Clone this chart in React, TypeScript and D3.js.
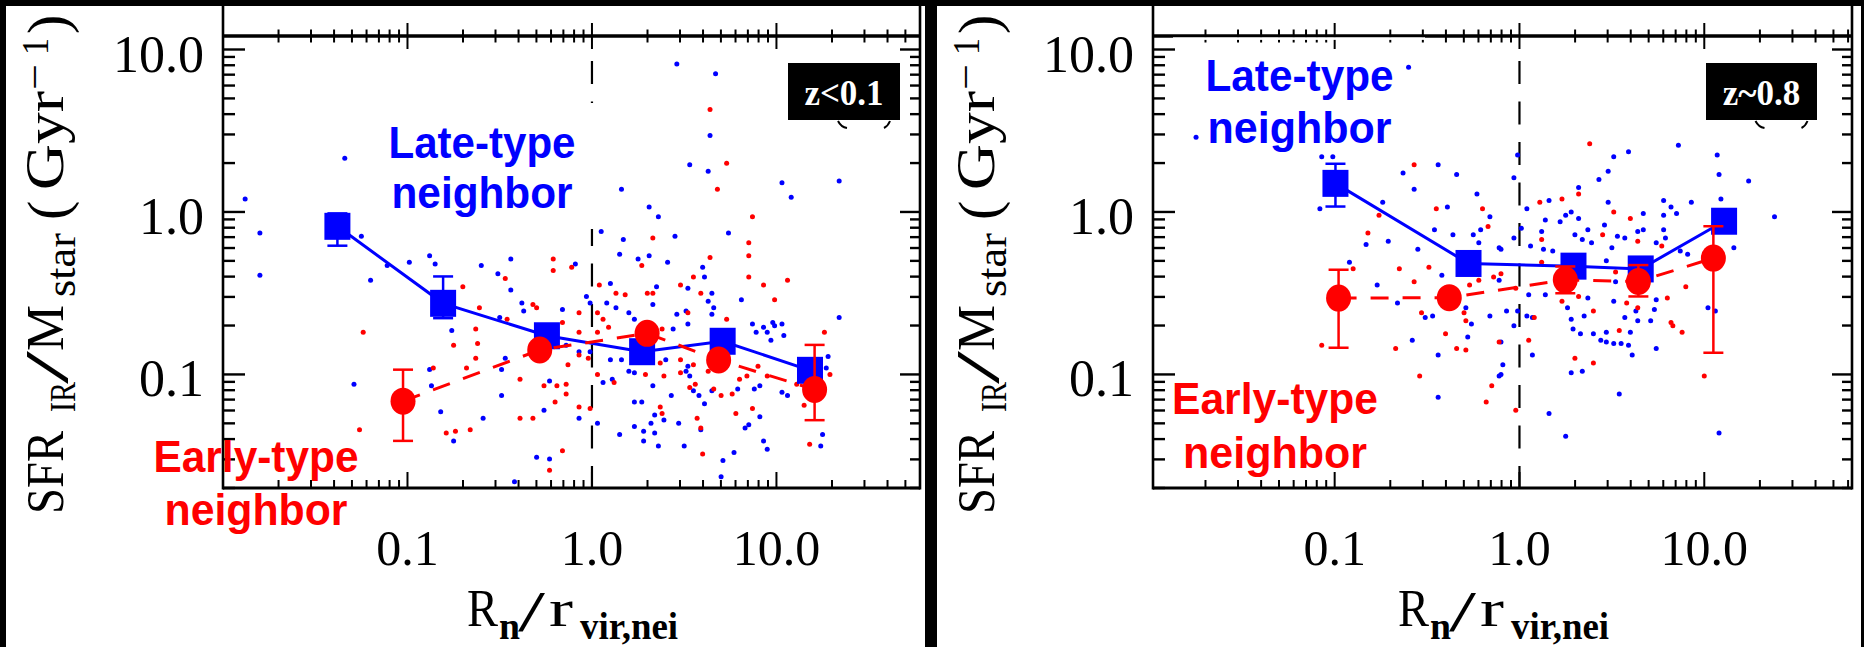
import React from 'react';
import * as d3 from 'd3';

// ---------------- data ----------------
const panelTags = ['z<0.1', 'z~0.8'];
const xTickValues = [0.1, 1, 10];
const xTickLabels = ['0.1', '1.0', '10.0'];
const yTickValues = [0.1, 1, 10];
const yTickLabels = ['0.1', '1.0', '10.0'];
const lateLabel = ['Late-type', 'neighbor'];
const earlyLabel = ['Early-type', 'neighbor'];

// binned means, z<0.1 (late-type neighbour: squares)
const lowzLateR = [0.0417, 0.156, 0.57, 1.87, 5.11, 15.2];
const lowzLateS = [0.816, 0.274, 0.173, 0.138, 0.16, 0.106];
const lowzLateLo = [0.62, 0.222, 0.158, 0.126, 0.146, 0.097];
const lowzLateHi = [0.98, 0.401, 0.19, 0.151, 0.175, 0.116];
// binned means, z<0.1 (early-type neighbour: circles)
const lowzEarlyR = [0.0946, 0.521, 1.99, 4.86, 16.1];
const lowzEarlyS = [0.0685, 0.1415, 0.179, 0.1227, 0.0808];
const lowzEarlyLo = [0.039, 0.13, 0.165, 0.112, 0.0523];
const lowzEarlyHi = [0.107, 0.154, 0.195, 0.134, 0.152];

// binned means, z~0.8
const highzLateR = [0.101, 0.53, 1.96, 4.53, 12.8];
const highzLateS = [1.5, 0.482, 0.464, 0.446, 0.877];
const highzLateLo = [1.08, 0.445, 0.43, 0.41, 0.81];
const highzLateHi = [1.98, 0.52, 0.5, 0.48, 0.95];
const highzEarlyR = [0.105, 0.417, 1.77, 4.4, 11.2];
const highzEarlyS = [0.295, 0.297, 0.382, 0.373, 0.52];
const highzEarlyLo = [0.146, 0.275, 0.316, 0.302, 0.136];
const highzEarlyHi = [0.441, 0.32, 0.462, 0.471, 0.817];

// individual galaxies: [log10(Rn/rvir,nei), log10(SFR_IR/Mstar)]
type Pt = [number, number];
const lowzLateDots: Pt[] = [
  [-1.34,0.33],[-1.88,0.08],[-1.80,-0.13],[-1.80,-0.39],[-1.25,-0.15],[-1.20,-0.42],[-1.11,-0.33],[-0.99,-0.31],[-0.88,-0.27],[-0.85,-0.32],[-0.60,-0.33],[-0.51,-0.38],[-0.44,-0.29],[-0.44,-0.48],[-0.38,-0.56],[-0.37,-0.61],[-0.16,-0.60],[-0.76,-0.73],[-0.14,-0.82],[-0.50,-0.65],[-0.88,-0.97],[-0.87,-1.07],[-1.29,-1.06],[-0.49,-1.13],[-0.47,-0.90],[-0.49,-0.97],[-0.82,-1.23],[-0.59,-1.27],[-0.26,-1.22],[-0.23,-1.04],[-0.75,-1.41],[-0.30,-1.51],[-0.23,-1.52],[-0.42,-1.66],
  [0.46,0.91],[0.67,0.85],[0.64,0.47],[0.53,0.29],[0.63,0.25],[1.03,0.18],[1.08,0.09],[1.34,0.19],[0.16,0.14],[0.31,0.03],[0.36,-0.03],[0.05,-0.12],[0.17,-0.17],[0.45,-0.15],[0.74,-0.13],[0.15,-0.26],[0.25,-0.29],[0.31,-0.27],[0.41,-0.31],[-0.09,-0.32],[0.60,-0.34],[0.61,-0.40],[0.35,-0.46],[0.10,-0.44],[-0.03,-0.52],[-0.01,-0.56],[0.08,-0.56],[0.13,-0.59],[0.20,-0.62],[0.33,-0.57],[0.46,-0.63],[0.51,-0.61],[0.52,-0.47],[0.63,-0.55],[0.65,-0.50],[0.66,-0.59],[0.65,-0.63],[0.81,-0.54],[0.87,-0.69],[0.89,-0.74],[0.93,-0.71],[0.95,-0.74],[0.98,-0.68],[0.99,-0.70],[1.03,-0.69],[0.97,-0.79],[1.04,-0.76],[1.34,-0.65],[1.28,-0.89],[1.27,-0.96],[0.44,-0.72],[0.40,-0.91],[0.52,-0.69],[0.23,-0.66],[0.10,-0.91],[0.16,-0.91],[-0.07,-0.86],[-0.01,-0.86],[0.06,-1.05],[0.11,-1.03],[0.20,-0.98],[0.23,-0.99],[0.33,-1.07],[0.43,-1.13],[0.51,-0.98],[0.52,-0.95],[0.53,-1.01],[0.55,-1.10],[0.58,-1.13],[0.61,-1.18],[0.65,-1.10],[0.79,-1.09],[0.88,-1.09],[0.91,-1.07],[1.03,-1.11],[1.06,-1.13],[0.23,-1.17],[0.27,-1.17],[0.34,-1.25],[0.39,-1.28],[0.32,-1.30],[0.28,-1.35],[0.34,-1.36],[0.28,-1.41],[0.36,-1.44],[0.23,-1.32],[0.15,-1.37],[0.47,-1.30],[0.50,-1.44],[0.59,-1.34],[0.91,-1.26],[0.83,-1.33],[0.85,-1.31],[0.93,-1.41],[0.95,-1.46],[0.77,-1.48],[0.71,-1.53],[0.70,-1.63],[0.03,-1.30],[-0.07,-1.27],[1.25,-1.37],[1.24,-1.44],
];
const lowzEarlyDots: Pt[] = [
  [-1.24,-0.74],[-0.70,-0.46],[-0.61,-0.59],[-0.63,-0.72],[-0.62,-0.81],[-0.75,-0.82],[-0.63,-0.90],[-0.68,-0.96],[-0.86,-0.96],[-0.47,-0.41],[-0.46,-0.66],[-0.32,-0.57],[-0.30,-0.59],[-0.21,-0.29],[-0.21,-0.36],[-0.16,-0.68],[-0.39,-1.03],[-0.26,-1.07],[-0.19,-1.07],[-0.13,-0.94],[-0.14,-1.06],[-0.14,-1.12],[-0.20,-1.17],[-0.39,-1.27],[-0.32,-1.27],[-0.79,-1.36],[-0.74,-1.35],[-0.66,-1.34],[-1.26,-1.34],[-0.16,-1.47],[-0.23,-1.59],[-0.11,-0.34],
  [0.64,0.63],[0.73,0.30],[0.68,0.14],[0.87,-0.03],[0.33,-0.16],[0.85,-0.19],[0.85,-0.27],[0.64,-0.28],[0.27,-0.33],[0.85,-0.40],[0.55,-0.40],[0.93,-0.45],[1.06,-0.42],[0.99,-0.54],[0.04,-0.45],[0.13,-0.50],[0.18,-0.51],[0.30,-0.50],[0.33,-0.50],[0.48,-0.45],[0.59,-0.50],[0.03,-0.62],[0.06,-0.66],[-0.07,-0.62],[0.03,-0.74],[0.09,-0.71],[0.38,-0.72],[0.52,-0.62],[0.73,-0.66],[-0.07,-0.74],[-0.07,-0.88],[-0.02,-0.90],[0.03,-1.00],[0.12,-1.05],[0.29,-1.00],[0.37,-0.93],[0.39,-1.01],[0.48,-0.91],[0.48,-0.99],[0.53,-1.08],[0.56,-1.06],[0.55,-0.94],[0.63,-0.98],[0.66,-1.09],[0.70,-1.13],[0.76,-1.12],[0.80,-1.03],[0.84,-1.01],[0.90,-0.95],[0.95,-1.01],[0.78,-1.24],[0.87,-1.21],[0.57,-1.27],[0.59,-1.33],[0.37,-1.20],[0.38,-1.24],[-0.07,-1.20],[-0.01,-1.21],[0.60,-1.49],[1.15,-1.19],[1.18,-1.43],[1.26,-0.74],[1.29,-1.00],[1.11,-1.06],
];
const highzLateDots: Pt[] = [
  [-0.60,0.89],[-1.75,0.46],[-1.07,0.34],[-1.01,0.34],[-1.08,0.02],[-0.63,0.24],[-0.44,0.29],[-0.34,0.23],[-0.57,0.14],[-0.23,0.11],[-0.74,0.06],[-0.39,0.03],[-0.16,-0.03],[-0.46,-0.11],[-0.36,-0.14],[-0.25,-0.14],[-0.21,-0.11],[-0.71,-0.18],[-0.83,-0.20],[-0.55,-0.23],[-0.22,-0.19],[-0.11,-0.22],[-0.92,-0.31],[-0.77,-0.45],[-0.66,-0.56],[-0.42,-0.39],[-0.51,-0.65],[-0.47,-0.64],[-0.29,-0.59],[-0.26,-0.69],[-0.16,-0.64],[-0.28,-0.77],[-0.58,-0.79],[-0.44,-0.88],[-0.44,-1.14],[-0.11,-1.01],[-0.11,-0.42],
  [-0.01,0.35],[-0.03,0.21],[0.04,0.02],[0.16,0.07],[0.14,-0.05],[-0.03,-0.16],[0.01,-0.10],[0.06,-0.21],[0.12,-0.12],[0.13,-0.23],[0.18,-0.24],[0.22,-0.06],[0.25,-0.02],[0.28,0.00],[0.32,-0.04],[0.32,0.15],[0.37,-0.11],[0.34,-0.17],[0.39,-0.19],[0.30,-0.14],[0.43,0.20],[0.48,0.25],[0.51,0.34],[0.59,0.37],[0.86,0.41],[0.48,0.06],[0.46,-0.08],[0.50,-0.22],[0.53,-0.15],[0.57,-0.16],[0.64,-0.12],[0.67,-0.01],[0.67,-0.11],[0.78,0.07],[0.78,-0.02],[0.82,0.03],[0.85,-0.01],[0.93,0.06],[0.78,-0.11],[0.79,-0.16],[0.74,-0.19],[0.87,-0.24],[0.91,-0.26],[1.07,0.35],[1.08,0.23],[1.09,0.08],[1.24,0.19],[1.38,-0.03],[1.16,-0.22],[1.02,-0.59],[1.06,-0.61],[1.08,-1.36],[-0.10,-0.23],[0.05,-0.51],[0.14,-0.51],[-0.07,-0.61],[-0.01,-0.61],[0.04,-0.64],[0.07,-0.65],[-0.03,-0.70],[-0.10,-0.80],[0.07,-0.88],[-0.09,-0.94],[-0.10,-1.00],[0.16,-1.24],[0.25,-1.38],[0.28,-0.99],[0.34,-0.98],[0.28,-0.66],[0.29,-0.72],[0.33,-0.75],[0.35,-0.64],[0.37,-0.53],[0.26,-0.59],[0.40,-0.75],[0.44,-0.79],[0.47,-0.80],[0.47,-0.74],[0.51,-0.81],[0.55,-0.81],[0.59,-0.82],[0.61,-0.88],[0.60,-0.74],[0.64,-0.67],[0.57,-0.65],[0.51,-0.55],[0.63,-0.61],[0.71,-0.67],[0.73,-0.60],[0.74,-0.54],[0.74,-0.84],[0.54,-1.12],[0.47,-0.30],[0.52,-0.43],
];
const highzEarlyDots: Pt[] = [
  [-0.57,0.29],[-0.45,0.02],[-0.76,-0.02],[-0.20,0.02],[-0.17,-0.09],[-0.82,-0.13],[-0.90,-0.35],[-0.65,-0.35],[-0.49,-0.34],[-0.57,-0.43],[-0.27,-0.45],[-0.22,-0.42],[-0.14,-0.40],[-0.53,-0.62],[-0.30,-0.62],[-0.29,-0.67],[-0.40,-0.75],[-0.67,-0.84],[-1.07,-0.82],[-0.34,-0.84],[-0.29,-0.85],[-0.11,-0.80],[-0.54,-1.01],[-0.15,-1.07],[-0.18,-1.17],
  [0.38,0.42],[0.32,0.11],[0.23,0.08],[0.11,0.06],[0.51,0.00],[0.60,-0.04],[0.12,-0.17],[0.45,-0.14],[0.64,-0.18],[0.77,-0.21],[0.12,-0.31],[-0.10,-0.38],[-0.02,-0.47],[0.23,-0.55],[0.32,-0.52],[0.40,-0.61],[0.52,-0.37],[0.58,-0.56],[0.64,-0.59],[0.80,-0.53],[0.90,-0.46],[0.82,-0.68],[0.83,-0.70],[0.88,-0.74],[0.08,-0.65],[0.05,-0.79],[0.54,-0.73],[0.30,-0.90],[0.40,-0.93],[-0.02,-1.22],[1.00,-1.01],
];

// ---------------- styling / layout ----------------
const W = 1864, H = 647;
const BLUE = '#0000ff';
const RED = '#ff0000';
const SERIF = "'Liberation Serif', 'Times New Roman', serif";
const SANS = "'Liberation Sans', Arial, sans-serif";
const AX_TOP = 6, AX_BOT = 488, TOP_LINE = 36;
const yScale = d3.scaleLog().domain([0.02, 10]).range([AX_BOT, 49.5]);

type Series = { r: number[]; s: number[]; lo: number[]; hi: number[] };
const panels = [
  {
    tag: panelTags[0], bgX: 6, bgW: 919, frameL: 223, frameR: 920, xDom: [0.01, 60],
    late: { r: lowzLateR, s: lowzLateS, lo: lowzLateLo, hi: lowzLateHi } as Series,
    early: { r: lowzEarlyR, s: lowzEarlyS, lo: lowzEarlyLo, hi: lowzEarlyHi } as Series,
    lateDots: lowzLateDots, earlyDots: lowzEarlyDots,
    box: { x: 788, y: 63, w: 112, h: 57 },
    lateTxt: { cx: 482, y1: 157.7, y2: 207.7, w1: 187, w2: 181 },
    earlyTxt: { cx: 256, y1: 471.7, y2: 525, w1: 205, w2: 183 },
    dashGap: [103, 229] as [number, number] | null,
    cover: null as [number, number] | null,
  },
  {
    tag: panelTags[1], bgX: 937, bgW: 924, frameL: 1153, frameR: 1852, xDom: [0.0104, 63],
    late: { r: highzLateR, s: highzLateS, lo: highzLateLo, hi: highzLateHi } as Series,
    early: { r: highzEarlyR, s: highzEarlyS, lo: highzEarlyLo, hi: highzEarlyHi } as Series,
    lateDots: highzLateDots, earlyDots: highzEarlyDots,
    box: { x: 1706, y: 63, w: 111, h: 57 },
    lateTxt: { cx: 1299.5, y1: 91, y2: 142.7, w1: 188, w2: 184 },
    earlyTxt: { cx: 1275, y1: 414.3, y2: 467.7, w1: 206, w2: 184 },
    dashGap: null as [number, number] | null,
    cover: [1173, 1425] as [number, number] | null,
  },
];

function logTicks(lo: number, hi: number) {
  const out: { v: number; major: boolean }[] = [];
  for (let d = -3; d <= 2; d++) {
    for (let k = 1; k <= 9; k++) {
      const v = +(k * Math.pow(10, d)).toPrecision(6);
      if (v >= lo * 0.999 && v <= hi * 1.001) out.push({ v, major: k === 1 });
    }
  }
  return out;
}

function Panel({ p }: { p: (typeof panels)[number] }) {
  const x = d3.scaleLog().domain(p.xDom).range([p.frameL, p.frameR]);
  const xt = logTicks(p.xDom[0], p.xDom[1]);
  const yt = logTicks(0.02, 18);
  const x1 = x(1);
  const mkPath = (ser: Series) =>
    d3.line<number>()
      .x((i) => x(ser.r[i]))
      .y((i) => yScale(ser.s[i]))(ser.r.map((_, i) => i)) || '';
  const dashSegs: [number, number, number][] = p.dashGap
    ? [[61, p.dashGap[0], 0], [p.dashGap[1], AX_BOT, (p.dashGap[1] - 61) % 40.5]]
    : [[61, AX_BOT, 0]];

  const errBars = (ser: Series, color: string, key: string) =>
    ser.r.map((r, i) => {
      const cx = x(r);
      const ylo = yScale(ser.lo[i]);
      const yhi = yScale(ser.hi[i]);
      return (
        <g key={key + i} stroke={color} strokeWidth={2.5}>
          <line x1={cx} x2={cx} y1={ylo} y2={yhi} />
          <line x1={cx - 10} x2={cx + 10} y1={ylo} y2={ylo} />
          <line x1={cx - 10} x2={cx + 10} y1={yhi} y2={yhi} />
        </g>
      );
    });

  const bx = p.bgX;
  return (
    <g>
      <rect x={p.bgX} y={6} width={p.bgW} height={H - 6} fill="#fff" />
      {/* frame */}
      <g stroke="#000" fill="none">
        <line x1={p.frameL} x2={p.frameL} y1={AX_TOP} y2={AX_BOT + 1.5} strokeWidth={2.6} />
        <line x1={p.frameR} x2={p.frameR} y1={AX_TOP} y2={AX_BOT + 1.5} strokeWidth={2.6} />
        <line x1={p.frameL} x2={p.frameR} y1={AX_BOT} y2={AX_BOT} strokeWidth={3} />
        <line x1={p.frameL} x2={p.frameR} y1={TOP_LINE} y2={TOP_LINE} strokeWidth={3.6} />
        {xt.map((t, i) => {
          const xx = x(t.v);
          const L = t.major ? 16 : 8;
          const T = t.major ? 13 : 6.5;
          return (
            <g key={'xt' + i} strokeWidth={2}>
              <line x1={xx} x2={xx} y1={AX_BOT} y2={AX_BOT - L} />
              <line x1={xx} x2={xx} y1={TOP_LINE - T} y2={TOP_LINE + T} />
            </g>
          );
        })}
        {yt.map((t, i) => {
          const yy = yScale(t.v);
          return (
            <g key={'yt' + i} strokeWidth={2.4}>
              <line x1={p.frameL} x2={p.frameL + (t.major ? 22 : 12)} y1={yy} y2={yy} />
              <line x1={p.frameR} x2={p.frameR - (t.major ? 20 : 10)} y1={yy} y2={yy} />
            </g>
          );
        })}
      </g>
      {p.cover && (
        <rect x={p.cover[0]} y={37.3} width={p.cover[1] - p.cover[0]} height={2.6} fill="#fff" />
      )}
      {/* dashed line at Rn = rvir */}
      {dashSegs.map((s, i) => (
        <line key={'d' + i} x1={x1} x2={x1} y1={s[0]} y2={s[1]} stroke="#000" strokeWidth={2.2}
          strokeDasharray="23 17.5" strokeDashoffset={s[2]} />
      ))}
      {/* scatter */}
      {p.lateDots.map((d, i) => (
        <circle key={'lb' + i} cx={x(Math.pow(10, d[0]))} cy={yScale(Math.pow(10, d[1]))} r={2.5} fill={BLUE} />
      ))}
      {p.earlyDots.map((d, i) => (
        <circle key={'er' + i} cx={x(Math.pow(10, d[0]))} cy={yScale(Math.pow(10, d[1]))} r={2.5} fill={RED} />
      ))}
      {/* late-type means */}
      <path d={mkPath(p.late)} fill="none" stroke={BLUE} strokeWidth={3} />
      {errBars(p.late, BLUE, 'eb')}
      {p.late.r.map((r, i) => (
        <rect key={'sq' + i} x={x(r) - 13} y={yScale(p.late.s[i]) - 13.5} width={26} height={27} fill={BLUE} />
      ))}
      {/* early-type means */}
      <path d={mkPath(p.early)} fill="none" stroke={RED} strokeWidth={3} strokeDasharray="18 14" />
      {errBars(p.early, RED, 'er')}
      {p.early.r.map((r, i) => (
        <ellipse key={'ci' + i} cx={x(r)} cy={yScale(p.early.s[i])} rx={12.5} ry={13.5} fill={RED} />
      ))}
      {/* tick labels */}
      <g fontFamily={SERIF} fill="#000">
        {yTickValues.map((v, i) => (
          <text key={'yl' + i} x={p.frameL - 19} y={yScale(v) + 22} fontSize={52} textAnchor="end">
            {yTickLabels[i]}
          </text>
        ))}
        {xTickValues.map((v, i) => (
          <text key={'xl' + i} x={x(v)} y={565} fontSize={50} textAnchor="middle">
            {xTickLabels[i]}
          </text>
        ))}
        {/* x title: R_n / r_vir,nei */}
        <text x={bx + 461} y={626} fontSize={52} textLength={31} lengthAdjust="spacingAndGlyphs">R</text>
        <text x={bx + 493} y={639} fontSize={38} fontWeight="bold" textLength={21} lengthAdjust="spacingAndGlyphs">n</text>
        <text x={bx + 512} y={631} fontSize={56} textLength={27} lengthAdjust="spacingAndGlyphs">/</text>
        <text x={bx + 543} y={626} fontSize={52} textLength={24} lengthAdjust="spacingAndGlyphs">r</text>
        <text x={bx + 574} y={639} fontSize={38} fontWeight="bold" textLength={98} lengthAdjust="spacingAndGlyphs">vir,nei</text>
        {/* y title: SFR_IR / M_star (Gyr^-1) */}
        <g transform={`translate(${bx + 57},0) rotate(-90)`}>
          <text x={-514} y={0} fontSize={52} textLength={83} lengthAdjust="spacingAndGlyphs">SFR</text>
          <text x={-412} y={12} fontSize={36} textLength={30} lengthAdjust="spacingAndGlyphs">IR</text>
          <text x={-384} y={4} fontSize={62} textLength={33} lengthAdjust="spacingAndGlyphs">/</text>
          <text x={-351} y={0} fontSize={52} textLength={46} lengthAdjust="spacingAndGlyphs">M</text>
          <text x={-297} y={12} fontSize={42} textLength={64} lengthAdjust="spacingAndGlyphs">star</text>
          <text x={-220} y={4} fontSize={58}>(</text>
          <text x={-190} y={0} fontSize={54} textLength={99} lengthAdjust="spacingAndGlyphs">Gyr</text>
          <text x={-90} y={-15} fontSize={40} textLength={26} lengthAdjust="spacingAndGlyphs">{'\u2212'}</text>
          <text x={-55} y={-15} fontSize={38} textLength={17} lengthAdjust="spacingAndGlyphs">1</text>
          <text x={-34} y={4} fontSize={58}>)</text>
        </g>
      </g>
      {/* tag box */}
      <rect x={p.box.x} y={p.box.y} width={p.box.w} height={p.box.h} fill="#000" />
      <text x={p.box.x + p.box.w / 2} y={104.5} fontSize={35} fontWeight="bold" fontFamily={SERIF}
        fill="#fff" textAnchor="middle">{p.tag}</text>
      <g stroke="#000" strokeWidth={2} fill="none">
        <path d={`M${p.box.x + p.box.w / 2 - 6},${121} q3,6 9,7`} />
        <path d={`M${p.box.x + p.box.w / 2 + 46},${121} q-2,5 -6,7`} />
      </g>
      {/* labels */}
      <g fontFamily={SANS} fontWeight="bold" fontSize={44} textAnchor="middle">
        <text x={p.lateTxt.cx} y={p.lateTxt.y1} fill={BLUE} textLength={p.lateTxt.w1} lengthAdjust="spacingAndGlyphs">{lateLabel[0]}</text>
        <text x={p.lateTxt.cx} y={p.lateTxt.y2} fill={BLUE} textLength={p.lateTxt.w2} lengthAdjust="spacingAndGlyphs">{lateLabel[1]}</text>
        <text x={p.earlyTxt.cx} y={p.earlyTxt.y1} fill={RED} textLength={p.earlyTxt.w1} lengthAdjust="spacingAndGlyphs">{earlyLabel[0]}</text>
        <text x={p.earlyTxt.cx} y={p.earlyTxt.y2} fill={RED} textLength={p.earlyTxt.w2} lengthAdjust="spacingAndGlyphs">{earlyLabel[1]}</text>
      </g>
    </g>
  );
}

export default function App() {
  return (
    <svg width={W} height={H} viewBox={`0 0 ${W} ${H}`}
      style={{ position: 'absolute', left: 0, top: 0, display: 'block' }}>
      <rect x={0} y={0} width={W} height={H} fill="#000" />
      {panels.map((p, i) => (
        <Panel key={i} p={p} />
      ))}
    </svg>
  );
}
